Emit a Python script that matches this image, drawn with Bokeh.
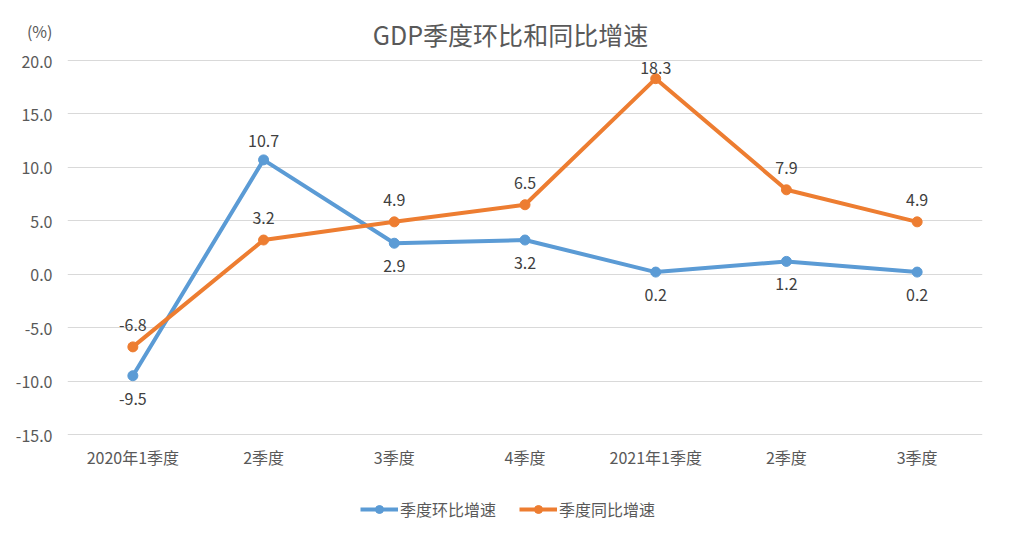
from bokeh.plotting import figure
from bokeh.models import (ColumnDataSource, FixedTicker, NumeralTickFormatter, Legend,
                          LegendItem, Label)
from bokeh.core.properties import value
from bokeh.embed import file_html
from bokeh.resources import INLINE

categories = ["2020年1季度", "2季度", "3季度", "4季度", "2021年1季度", "2季度", "3季度"]
qoq = [-9.5, 10.7, 2.9, 3.2, 0.2, 1.2, 0.2]      # 季度环比增速
yoy = [-6.8, 3.2, 4.9, 6.5, 18.3, 7.9, 4.9]      # 季度同比增速
series_names = ["季度环比增速", "季度同比增速"]
y_ticks = [-15, -10, -5, 0, 5, 10, 15, 20]
title_text = "GDP季度环比和同比增速"
unit_text = "(%)"

BLUE = "#5B9BD5"
ORANGE = "#ED7D31"
FONT = "Noto Sans CJK SC"

# layout (pixels)
W, H = 1004, 522
GRID_H, TOP_PAD = 374, 60          # gridline span and space above the top gridline
BL, BR = 67, 22
BOTTOM_PAD = H - GRID_H - TOP_PAD   # space below the bottom gridline (category labels, legend)
ymin, ymax = min(y_ticks), max(y_ticks)
px_per_unit = GRID_H / (ymax - ymin)
y_top = ymax + TOP_PAD / px_per_unit
y_bottom = ymin - BOTTOM_PAD / px_per_unit
unit_y = ymax + (TOP_PAD - 30) / px_per_unit  # where the "(%)" unit label sits

x = list(range(len(categories)))

p = figure(width=W, height=H, output_backend="svg", toolbar_location=None,
           x_axis_location=None,
           x_range=(-0.5, len(categories) - 0.5), y_range=(y_bottom, y_top),
           min_border_left=BL, min_border_right=BR, min_border_top=0, min_border_bottom=0,
           outline_line_color=None, background_fill_color="white", border_fill_color="white")

# y axis (with the unit label as the top-most tick label)
p.yaxis.ticker = FixedTicker(ticks=y_ticks + [unit_y])
p.yaxis.formatter = NumeralTickFormatter(format="0.0")
p.yaxis.major_label_overrides = {unit_y: unit_text}
p.yaxis.axis_line_color = None
p.yaxis.major_tick_line_color = None
p.yaxis.minor_tick_line_color = None
p.yaxis.major_tick_out = 0
p.yaxis.major_tick_in = 0
p.yaxis.major_label_text_font = FONT
p.yaxis.major_label_text_font_size = "16px"
p.yaxis.major_label_text_color = "#595959"
p.yaxis.major_label_standoff = 15
p.xgrid.grid_line_color = None
p.ygrid.ticker = FixedTicker(ticks=y_ticks)
p.ygrid.grid_line_color = "#D9D9D9"
p.ygrid.grid_line_width = 1

src = ColumnDataSource(dict(x=x, qoq=qoq, yoy=yoy, cat=categories,
                            base=[ymin] * len(categories),
                            qoq_lbl=[f"{v:.1f}" for v in qoq],
                            yoy_lbl=[f"{v:.1f}" for v in yoy]))

# category labels under the bottom gridline
p.text("x", "base", text="cat", source=src, y_offset=22, text_align="center",
       text_baseline="middle", text_font=value(FONT), text_font_size="16px",
       text_color="#595959")

l1 = p.line("x", "qoq", source=src, line_color=BLUE, line_width=4)
c1 = p.scatter("x", "qoq", source=src, size=10, fill_color=BLUE, line_color=BLUE)
l2 = p.line("x", "yoy", source=src, line_color=ORANGE, line_width=4)
c2 = p.scatter("x", "yoy", source=src, size=10, fill_color=ORANGE, line_color=ORANGE)

# data labels: yoy above (kept below the top gridline), qoq above only where it is the higher series
src.data["yoy_off"] = [-min(22, (ymax - v) * px_per_unit - 7) for v in yoy]
src.data["qoq_off"] = [-19 if a > b else 23 for a, b in zip(qoq, yoy)]
p.text("x", "qoq", text="qoq_lbl", source=src, y_offset="qoq_off", text_align="center",
       text_baseline="middle", text_font=value(FONT), text_font_size="16px",
       text_color="#404040")
p.text("x", "yoy", text="yoy_lbl", source=src, y_offset="yoy_off", text_align="center",
       text_baseline="middle", text_font=value(FONT), text_font_size="16px",
       text_color="#404040")

# title
p.add_layout(Label(x=510 - BL, y=H - 33, x_units="screen", y_units="screen",
                   text=title_text, text_font=FONT, text_font_size="25px",
                   text_color="#595959", text_align="center", text_baseline="middle"))

legend = Legend(items=[LegendItem(label=series_names[0], renderers=[l1, c1]),
                       LegendItem(label=series_names[1], renderers=[l2, c2])],
                orientation="horizontal", location=(360 - BL, 1),
                border_line_color=None, background_fill_alpha=0,
                glyph_width=38, label_standoff=2, spacing=23, padding=0, margin=0,
                label_text_font=FONT, label_text_font_size="16px",
                label_text_color="#595959")
p.add_layout(legend)

open("out.html", "w").write(file_html(p, INLINE))
